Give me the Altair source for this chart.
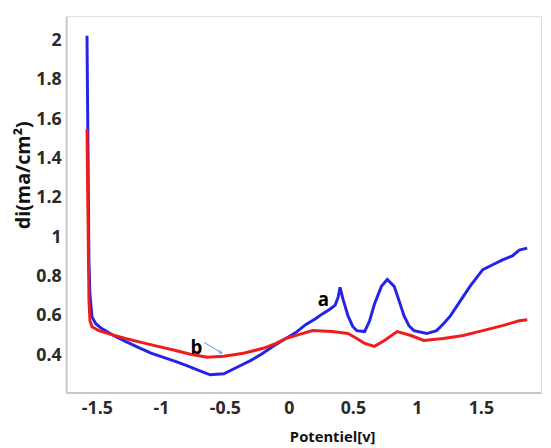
import altair as alt
import pandas as pd

# Curve a (blue)
blue_x = [-1.577, -1.569, -1.562, -1.554, -1.538, -1.508, -1.462, -1.369, -1.277, -1.177,
          -1.077, -0.985, -0.892, -0.792, -0.715, -0.615, -0.508, -0.385, -0.292, -0.215,
          -0.123, -0.023, 0.054, 0.131, 0.208, 0.262, 0.323, 0.362, 0.385, 0.40,
          0.423, 0.462, 0.50, 0.531, 0.592, 0.631, 0.669, 0.723, 0.769, 0.823,
          0.862, 0.90, 0.938, 0.977, 1.077, 1.154, 1.208, 1.262, 1.338, 1.415,
          1.515, 1.592, 1.669, 1.746, 1.80, 1.862]
blue_y = [2.025, 1.435, 0.885, 0.71, 0.595, 0.56, 0.535, 0.50, 0.47, 0.44,
          0.41, 0.39, 0.37, 0.345, 0.325, 0.30, 0.305, 0.345, 0.375, 0.405,
          0.445, 0.485, 0.515, 0.555, 0.585, 0.61, 0.635, 0.655, 0.695, 0.745,
          0.685, 0.60, 0.545, 0.525, 0.52, 0.575, 0.66, 0.75, 0.785, 0.75,
          0.675, 0.60, 0.55, 0.525, 0.51, 0.525, 0.56, 0.60, 0.675, 0.75,
          0.835, 0.86, 0.885, 0.905, 0.935, 0.945]

# Curve b (red)
red_x = [-1.577, -1.569, -1.562, -1.554, -1.538, -1.485, -1.385, -1.277, -1.154, -1.023,
         -0.892, -0.769, -0.638, -0.508, -0.354, -0.20, -0.10, -0.023, 0.077, 0.185,
         0.338, 0.462, 0.531, 0.592, 0.669, 0.746, 0.846, 0.954, 1.054, 1.208,
         1.362, 1.515, 1.669, 1.80, 1.862]
red_y = [1.55, 1.085, 0.685, 0.575, 0.545, 0.525, 0.505, 0.485, 0.465, 0.445,
         0.425, 0.405, 0.39, 0.395, 0.41, 0.435, 0.46, 0.485, 0.505, 0.525,
         0.52, 0.51, 0.485, 0.46, 0.445, 0.475, 0.52, 0.50, 0.475, 0.485,
         0.50, 0.525, 0.55, 0.575, 0.58]

x_ticks = [-1.5, -1, -0.5, 0, 0.5, 1, 1.5]
y_ticks = [0.4, 0.6, 0.8, 1, 1.2, 1.4, 1.6, 1.8, 2]

labels = ["a", "b"]
label_x = [0.269, -0.723]
label_y = [0.65, 0.405]

arrow_x = [-0.662]
arrow_y = [0.465]
arrow_x2 = [-0.523]
arrow_y2 = [0.41]

blue_df = pd.DataFrame({"x": blue_x, "y": blue_y})
red_df = pd.DataFrame({"x": red_x, "y": red_y})
lab_df = pd.DataFrame({"t": labels, "x": label_x, "y": label_y})
arr_df = pd.DataFrame({"x": arrow_x, "y": arrow_y, "x2": arrow_x2, "y2": arrow_y2})

xscale = alt.Scale(domain=[-1.74, 1.97], nice=False, zero=False)
yscale = alt.Scale(domain=[0.21, 2.125], nice=False, zero=False)

xaxis = alt.Axis(values=x_ticks, labelExpr="'' + datum.value", grid=False, ticks=False,
                 domainColor="#c8c8c8", domainWidth=2,
                 labelFont="Open Sans", labelFontSize=18, labelFontWeight="bold",
                 labelColor="#2a2a2a", labelPadding=7,
                 title="Potentiel[v]", titleFont="Open Sans", titleFontSize=15,
                 titleFontWeight="bold", titleColor="#111111",
                 titleX=270, titleY=50, titleBaseline="alphabetic", titleAnchor="start",
                 titleAlign="center")
yaxis = alt.Axis(values=y_ticks, labelExpr="'' + datum.value", grid=False, ticks=False,
                 domainColor="#c8c8c8", domainWidth=2,
                 labelFont="Open Sans", labelFontSize=18, labelFontWeight="bold",
                 labelColor="#2a2a2a", labelPadding=5,
                 title="di(ma/cm²)", titleFont="Open Sans", titleFontSize=20,
                 titleFontWeight="bold", titleColor="#111111",
                 titleX=-43, titleY=161, titleBaseline="middle", titleAlign="center",
                 titleAngle=270)

blue = alt.Chart(blue_df).mark_line(color="#2424e6", strokeWidth=3).encode(
    x=alt.X("x:Q", scale=xscale, axis=xaxis),
    y=alt.Y("y:Q", scale=yscale, axis=yaxis),
    order="x:Q",
)
red = alt.Chart(red_df).mark_line(color="#f01c1c", strokeWidth=3).encode(
    x=alt.X("x:Q", scale=xscale),
    y=alt.Y("y:Q", scale=yscale),
    order="x:Q",
)
text = alt.Chart(lab_df).mark_text(font="Open Sans", fontSize=19, fontWeight="bold",
                                   color="#000000", baseline="alphabetic", align="center").encode(
    x=alt.X("x:Q", scale=xscale), y=alt.Y("y:Q", scale=yscale), text="t:N")
arrow = alt.Chart(arr_df).mark_rule(color="#5a8ad8", strokeWidth=1).encode(
    x=alt.X("x:Q", scale=xscale), y=alt.Y("y:Q", scale=yscale), x2="x2", y2="y2")
head = alt.Chart(arr_df).mark_point(shape="M -1 -0.6 L 0 0 L -1 0.6", filled=False,
                                    color="#5a8ad8", size=40, angle=31, strokeWidth=1).encode(
    x=alt.X("x2:Q", scale=xscale), y=alt.Y("y2:Q", scale=yscale))

chart = alt.layer(blue, red, arrow, head, text).properties(
    width=482, height=382,
    autosize=alt.AutoSizeParams(type="none"),
    padding={"left": 59, "top": 5, "right": 2, "bottom": 50},
).configure_view(stroke="#dcdcdc", strokeWidth=1.5).configure(background="white")

chart.save("out.html", embed_options={"renderer": "svg", "actions": False})
